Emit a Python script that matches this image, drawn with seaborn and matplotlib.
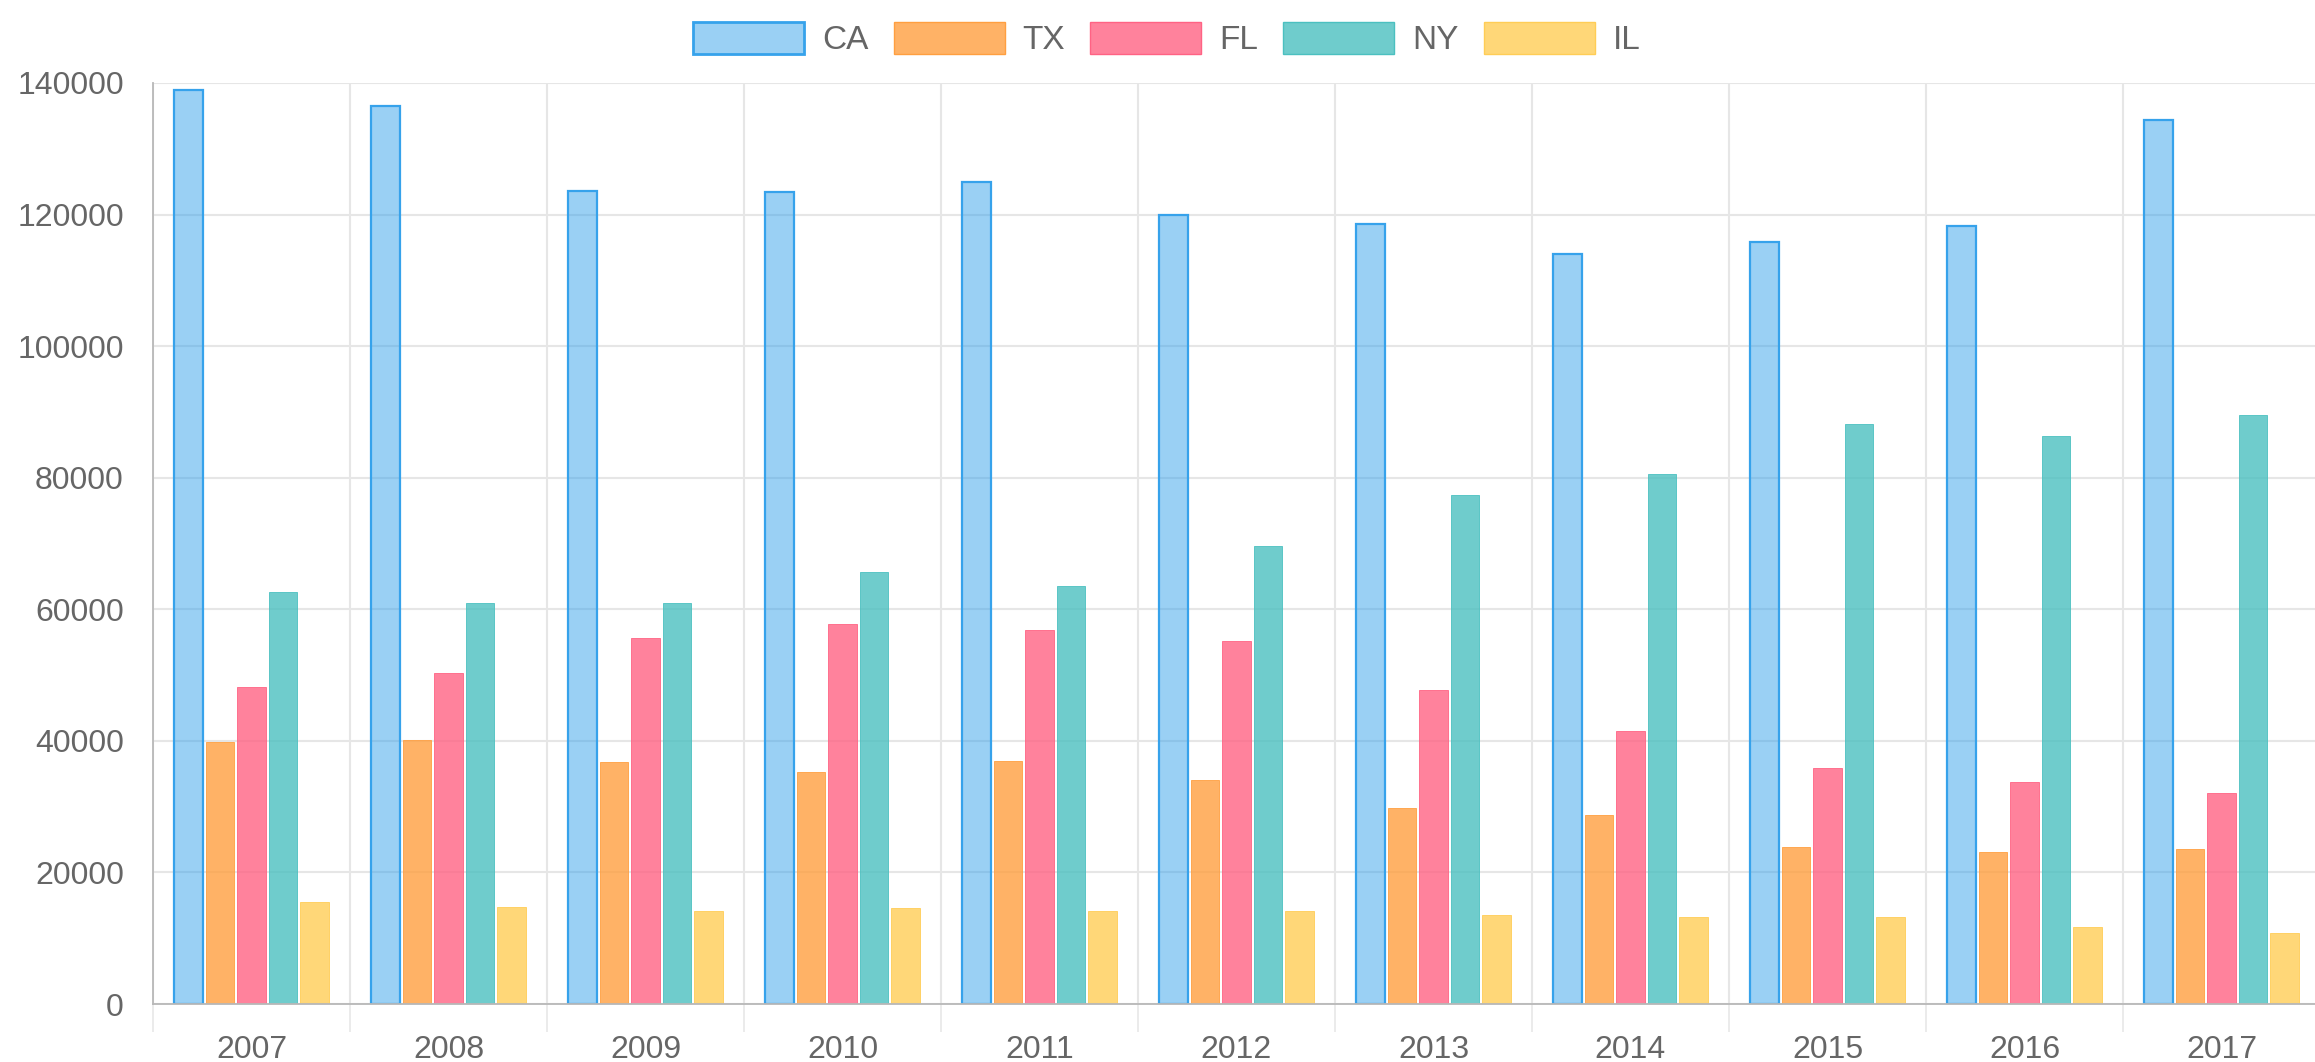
import matplotlib
matplotlib.use("Agg")
import pandas as pd
import matplotlib.pyplot as plt
import seaborn as sns
from matplotlib.patches import Patch
from matplotlib.ticker import FixedLocator

# values
years = ["2007", "2008", "2009", "2010", "2011", "2012", "2013", "2014", "2015", "2016", "2017"]
states = ["CA", "TX", "FL", "NY", "IL"]
ca = [139000, 136500, 123600, 123400, 125000, 120000, 118500, 114000, 115800, 118200, 134400]
tx = [39900, 40200, 36800, 35200, 37000, 34100, 29800, 28700, 23800, 23100, 23600]
fl = [48200, 50300, 55600, 57700, 56800, 55200, 47800, 41500, 35900, 33700, 32100]
ny = [62600, 61000, 61000, 65700, 63500, 69600, 77400, 80500, 88200, 86400, 89500]
il = [15500, 14800, 14100, 14600, 14100, 14100, 13500, 13200, 13200, 11700, 10800]

base_colors = {
    "CA": (54/255, 162/255, 235/255),
    "TX": (255/255, 159/255, 64/255),
    "FL": (255/255, 99/255, 132/255),
    "NY": (75/255, 192/255, 192/255),
    "IL": (255/255, 205/255, 86/255),
}
fill_alpha = {"CA": 0.5, "TX": 0.8, "FL": 0.8, "NY": 0.8, "IL": 0.8}
edge_width = {"CA": 1.6, "TX": 0.6, "FL": 0.6, "NY": 0.6, "IL": 0.6}

rows = []
for state, vals in zip(states, [ca, tx, fl, ny, il]):
    for yr, v in zip(years, vals):
        rows.append({"year": yr, "state": state, "value": v})
df = pd.DataFrame(rows)

sns.set_style("white")
plt.rcParams["font.family"] = ["Liberation Sans", "DejaVu Sans"]

W, H = 2315, 1062
fig = plt.figure(figsize=(W / 100, H / 100), dpi=100)
left, right, top, bottom = 153, 2320, 83, 1004
ax = fig.add_axes([left / W, 1 - bottom / H, (right - left) / W, (bottom - top) / H])

sns.barplot(data=df, x="year", y="value", hue="state", hue_order=states, order=years,
            palette=[base_colors[s] for s in states], width=0.8, gap=0.1,
            legend=False, ax=ax, saturation=1)

for state, cont in zip(states, ax.containers):
    for bar in cont:
        bar.set_facecolor((*base_colors[state], fill_alpha[state]))
        bar.set_edgecolor(base_colors[state])
        bar.set_linewidth(edge_width[state])

grid_c = "#e6e6e6"
ax.set_xlim(-0.5, len(years) - 0.5)
ax.set_ylim(0, 140000)
ax.set_yticks(range(0, 140001, 20000))
ax.xaxis.set_minor_locator(FixedLocator([i - 0.5 for i in range(len(years) + 1)]))
ax.grid(axis="y", which="major", color=grid_c, lw=1.5)
ax.grid(axis="x", which="minor", color=grid_c, lw=1.5)
ax.grid(axis="x", which="major", visible=False)
ax.set_axisbelow(True)

ax.tick_params(axis="y", which="major", length=20, width=1.1, color=grid_c, pad=1,
               labelsize=23, labelcolor="#666666")
ax.tick_params(axis="x", which="major", length=0, pad=22, labelsize=23, labelcolor="#666666")
ax.tick_params(axis="x", which="minor", length=20, width=1.1, color=grid_c, bottom=True)
ax.set_xlabel("")
ax.set_ylabel("")

for side in ["top", "right"]:
    ax.spines[side].set_visible(False)
for side in ["left", "bottom"]:
    ax.spines[side].set_color("#b8b8b8")
    ax.spines[side].set_linewidth(1.3)

handles = [Patch(facecolor=(*base_colors[s], fill_alpha[s]), edgecolor=base_colors[s],
                 linewidth=edge_width[s] + 0.4) for s in states]
fig.legend(handles, states, loc="center", bbox_to_anchor=(0.504, 0.963), ncol=5,
           frameon=False, handlelength=3.33, handleheight=1.1, handletextpad=0.54,
           columnspacing=0.75, fontsize=24, labelcolor="#666666")

fig.savefig("out.png", dpi=100)
plt.close(fig)
